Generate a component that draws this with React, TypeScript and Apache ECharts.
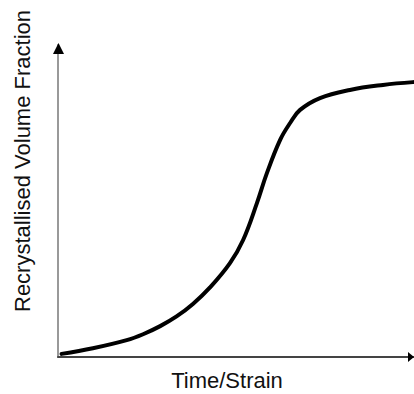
import React, { useEffect, useRef } from "react";
import * as echarts from "echarts";

const timeStrain: number[] = [1.0, 9.8, 19.3, 23.9, 28.7, 33.3, 37.9, 42.7, 48.3, 52, 55.9, 58.7, 62.4, 65.2, 68, 73.6, 82, 91.3, 99.7];
const fraction: number[] = [1.0, 2.8, 5.4, 7.3, 9.9, 13.0, 17.0, 22.3, 30.1, 37.5, 49.4, 59, 69.6, 75, 79.2, 83, 85.6, 87.2, 88.1];
const xTitle = "Time/Strain";
const yTitle = "Recrystallised Volume Fraction";

export default function App() {
  const ref = useRef<HTMLDivElement>(null);
  useEffect(() => {
    if (!ref.current) return;
    const chart = echarts.init(ref.current, null, { renderer: "svg" });
    const font = "'Liberation Sans', Arial, sans-serif";
    chart.setOption({
      animation: false,
      grid: { left: 58, right: 0, top: 45, bottom: 37 },
      xAxis: {
        type: "value",
        min: 0,
        max: 100,
        axisLine: { show: true, onZero: false, lineStyle: { color: "#444", width: 2 } },
        axisTick: { show: false },
        axisLabel: { show: false },
        splitLine: { show: false },
      },
      yAxis: {
        type: "value",
        min: 0,
        max: 100,
        axisLine: { show: true, onZero: false, lineStyle: { color: "#999", width: 2 } },
        axisTick: { show: false },
        axisLabel: { show: false },
        splitLine: { show: false },
      },
      graphic: [
        {
          type: "polygon",
          shape: { points: [[58.5, 43], [53, 54], [64, 54]] },
          style: { fill: "#000" },
          z: 10,
        },
        {
          type: "polygon",
          shape: { points: [[414, 357], [408, 352], [408, 362]] },
          style: { fill: "#000" },
          z: 10,
        },
        {
          type: "text",
          x: 227,
          y: 380,
          style: {
            text: xTitle,
            font: `22px ${font}`,
            fill: "#111",
            align: "center",
            verticalAlign: "middle",
          },
        },
        {
          type: "text",
          x: 22,
          y: 161,
          rotation: Math.PI / 2,
          style: {
            text: yTitle,
            font: `22px ${font}`,
            fill: "#111",
            align: "center",
            verticalAlign: "middle",
          },
        },
      ],
      series: [
        {
          type: "line",
          data: timeStrain.map((x, i) => [x, fraction[i]]),
          smooth: 0.4,
          showSymbol: false,
          symbol: "none",
          lineStyle: { color: "#000", width: 4, cap: "round" },
        },
      ],
    });
    return () => chart.dispose();
  }, []);
  return <div ref={ref} style={{ width: 414, height: 394, position: "absolute", left: 0, top: 0 }} />;
}
